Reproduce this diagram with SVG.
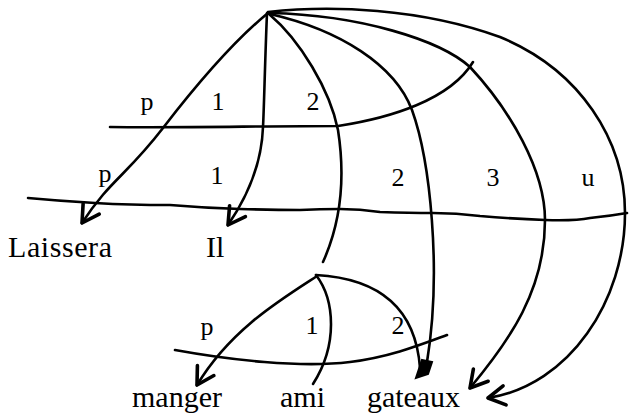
<svg xmlns="http://www.w3.org/2000/svg" width="629" height="417" viewBox="0 0 629 417">
<style>
.c{fill:none;stroke:#000;stroke-width:2.6;stroke-linejoin:round;stroke-linecap:round}
.w{font-family:"Liberation Serif","Times New Roman",serif;font-size:30px;fill:#000}
.l{font-family:"Liberation Serif","Times New Roman",serif;font-size:26px;fill:#000;text-anchor:middle}
</style>
<defs>
<marker id="v" markerUnits="userSpaceOnUse" markerWidth="24" markerHeight="24" refX="0" refY="0" viewBox="-16 -10 20 20" orient="auto" overflow="visible">
<path d="M-14,-8 L0,0 L-14,8" fill="none" stroke="#000" stroke-width="3" stroke-linecap="round" stroke-linejoin="round"/>
</marker>
</defs>
<rect width="629" height="417" fill="#fff"/>
<g id="connectors">
<path class="c" d="M28,198 Q60,201 95,203 T170,205 Q205,208 240,209 T300,210 Q320,209 340,209 T380,212 Q410,213 433,213 T480,216 Q515,219 545,220 T590,218 Q610,216 627,213"/>
<path class="c" d="M110,127 C180,128 260,126 338,126 C390,118 450,100 473,62"/>
<path class="c" d="M175,350 C230,360 300,368 350,362 C390,357 420,345 447,335"/>
<path class="c" marker-end="url(#v)" d="M268,13 C235,40 200,80 163,128 S110,180 82,223"/>
<path class="c" marker-end="url(#v)" d="M267,13 C265,60 264,110 263,127 C262,155 252,190 228,225"/>
<path class="c" d="M269,14 C300,40 330,90 338,130 C345,175 342,220 323,262"/>
<path class="c" d="M270,14 C340,30 395,65 412,110 C430,160 442,270 427,362"/>
<path d="M422,360 L432,362 L428,374 L416,378 Z" fill="#000" stroke="#000" stroke-width="2"/>
<path class="c" marker-end="url(#v)" d="M270,13 C360,15 440,40 470,67 C510,110 545,170 545,220 C545,290 510,340 470,388"/>
<path class="c" marker-end="url(#v)" d="M268,12 C330,5 420,8 500,37 C580,70 625,140 625,213 C625,300 570,385 488,398"/>
<path class="c" marker-end="url(#v)" d="M317,276 C280,300 230,330 197,385"/>
<path class="c" d="M316,275 C335,300 338,345 313,384"/>
<path class="c" d="M316,275 C370,278 415,300 420,368"/>
</g>
<g id="labels">
<text class="l" x="147" y="110">p</text>
<text class="l" x="218" y="110">1</text>
<text class="l" x="313" y="110">2</text>
<text class="l" x="105" y="182">p</text>
<text class="l" x="217" y="184">1</text>
<text class="l" x="398" y="186">2</text>
<text class="l" x="493" y="186">3</text>
<text class="l" x="588" y="186">u</text>
<text class="l" x="207" y="335">p</text>
<text class="l" x="312" y="334">1</text>
<text class="l" x="398" y="334">2</text>
</g>
<g id="laissera"><text class="w" x="8" y="257" textLength="104">Laissera</text></g>
<g id="il"><text class="w" x="206" y="257">Il</text></g>
<g id="manger"><text class="w" x="132" y="407" textLength="90">manger</text></g>
<g id="ami"><text class="w" x="280" y="407">ami</text></g>
<g id="gateaux"><text class="w" x="367" y="407" textLength="93">gateaux</text></g>
</svg>
